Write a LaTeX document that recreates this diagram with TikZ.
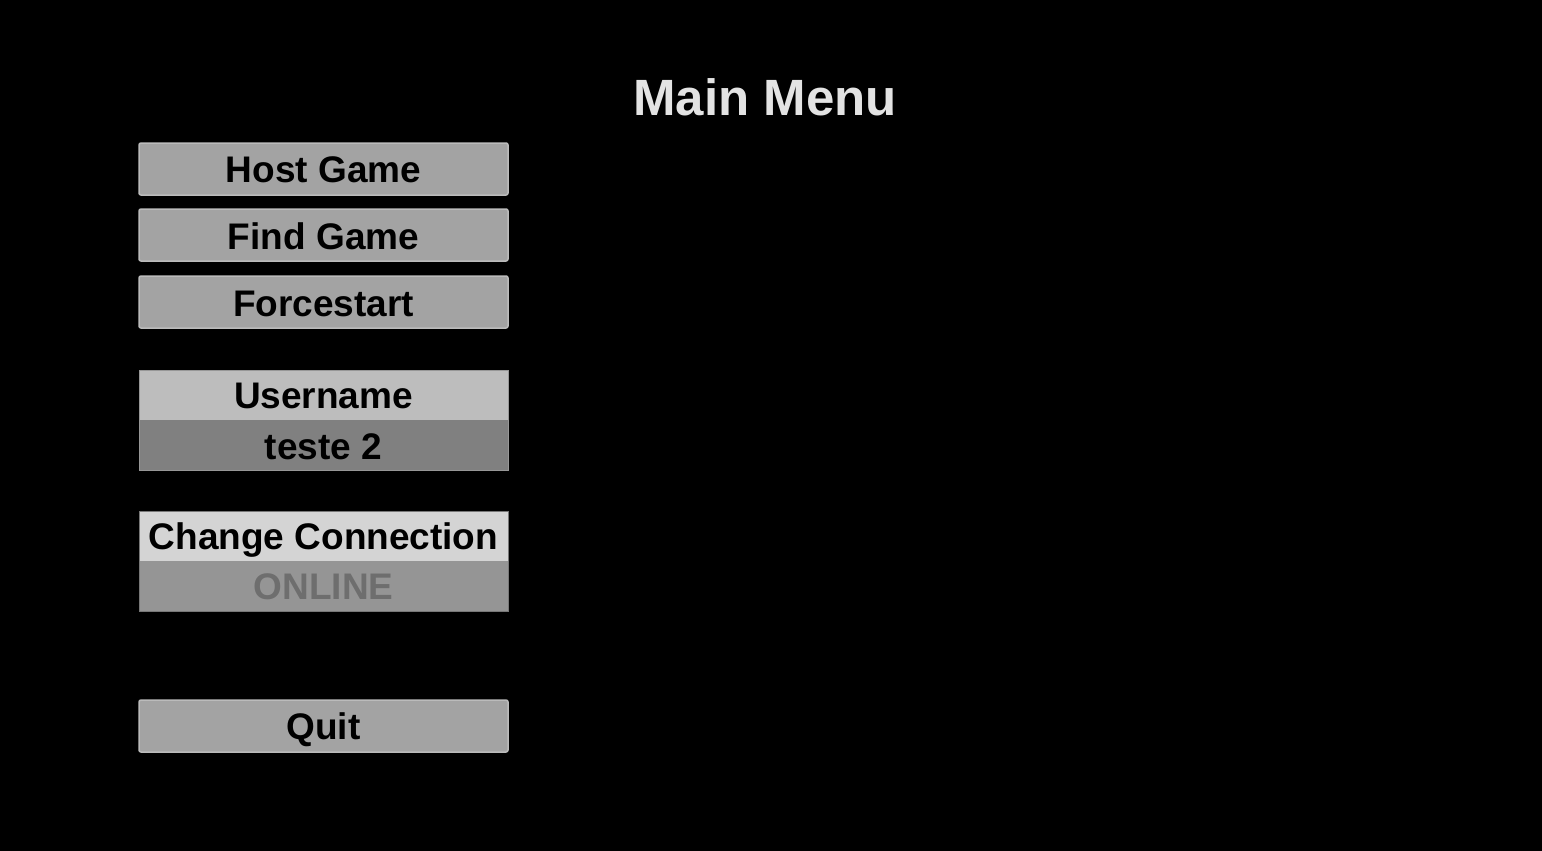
\documentclass[tikz,border=0pt]{standalone}
\usepackage{fontspec}
\setmainfont{Liberation Sans}
\begin{document}
\begin{tikzpicture}[x=1pt,y=-1pt,
  btn/.style={fill=btngray,draw=btnedge,line width=1.5pt,rounded corners=2pt},
  lbl/.style={anchor=base,inner sep=0pt,font=\fontsize{37}{40}\selectfont\bfseries,text=black},
]
\definecolor{btngray}{HTML}{A3A3A3}
\definecolor{btnedge}{HTML}{BBBBBB}
\definecolor{untop}{HTML}{BDBDBD}
\definecolor{unbot}{HTML}{808080}
\definecolor{cctop}{HTML}{D4D4D4}
\definecolor{ccbot}{HTML}{959595}
\definecolor{onl}{HTML}{6E6E6E}
\definecolor{titlec}{HTML}{E3E3E3}
\fill[black] (0,0) rectangle (1542,851);
\useasboundingbox (0,0) rectangle (1542,851);
\node[anchor=base,inner sep=0pt,font=\fontsize{51}{56}\selectfont\bfseries,text=titlec] (title) at (765,115) {Main Menu};
% buttons
\draw[btn] (139,143) rectangle (508,195);
\node[lbl] (host) at (323.5,182) {Host Game};
\draw[btn] (139,209) rectangle (508,261);
\node[lbl] (find) at (323.5,249) {Find Game};
\draw[btn] (139,276) rectangle (508,328);
\node[lbl] (force) at (323.5,316) {Forcestart};
% username
\fill[untop] (139,370) rectangle (508,420);
\fill[unbot] (139,420) rectangle (508,470);
\draw[untop!80!black,line width=1pt] (139,370) rectangle (508,470);
\node[lbl] (uname) at (323.5,408) {Username};
\node[lbl] (uval) at (323.5,459) {teste 2};
% connection
\fill[cctop] (139,511) rectangle (508,561);
\fill[ccbot] (139,561) rectangle (508,611);
\draw[ccbot!80!black,line width=1pt] (139,511) rectangle (508,611);
\node[lbl] (conn) at (323.5,549) {Change Connection};
\node[lbl,text=onl] (online) at (323.5,599) {ONLINE};
% quit
\draw[btn] (139,700) rectangle (508,752);
\node[lbl] (quit) at (323.5,739) {Quit};
\end{tikzpicture}
\end{document}
